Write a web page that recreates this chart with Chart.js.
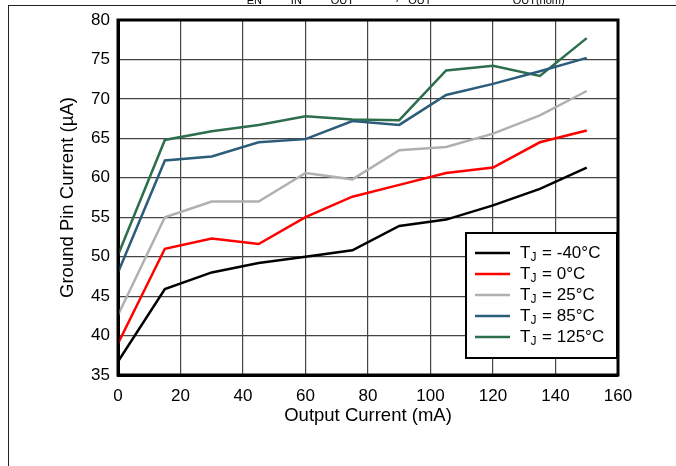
<!DOCTYPE html>
<html>
<head>
<meta charset="utf-8">
<script src="https://cdn.jsdelivr.net/npm/chart.js@4"></script>
<style>
  html, body { margin: 0; padding: 0; background: #fff; }
  #wrap { position: relative; width: 676px; height: 466px; overflow: hidden; }
  #frame { position: absolute; left: 8px; top: 5px; width: 700px; height: 500px;
    border-left: 1.5px solid #222; border-top: 1.5px solid #222; }
  #cond { position: absolute; left: 236px; top: -14px; font: 16px "Liberation Sans", Arial, sans-serif;
    color: #000; white-space: nowrap; }
  #cond sub { font-size: 11px; }
</style>
</head>
<body>
<div id="wrap">
  <div id="cond">V<sub>EN</sub> = V<sub>IN</sub> = V<sub>OUT</sub> + 1 V, I<sub>OUT</sub> = 0 mA to I<sub>OUT(nom)</sub></div>
  <div id="frame"></div>
  <canvas id="chart" width="676" height="466"></canvas>
</div>
<script>
const currents = [0, 15, 30, 45, 60, 75, 90, 105, 120, 135, 150];
const tempLabels = ["-40°C", "0°C", "25°C", "85°C", "125°C"];
const lineColors = ["#000000", "#ff0000", "#b0b0b0", "#2b5c7a", "#2d6e4c"];
const gndM40 = [36.7, 45.9, 48.0, 49.2, 50.0, 50.8, 53.9, 54.7, 56.5, 58.6, 61.3];
const gnd0 = [39.0, 51.0, 52.3, 51.6, 55.0, 57.6, 59.1, 60.6, 61.3, 64.5, 66.0];
const gnd25 = [42.6, 55.0, 57.0, 57.0, 60.6, 59.8, 63.5, 63.9, 65.6, 67.9, 71.0];
const gnd85 = [48.0, 62.2, 62.7, 64.5, 64.9, 67.2, 66.7, 70.5, 71.9, 73.5, 75.2];
const gnd125 = [50.2, 64.8, 65.9, 66.7, 67.8, 67.4, 67.3, 73.6, 74.2, 72.9, 77.7];
const seriesValues = [gndM40, gnd0, gnd25, gnd85, gnd125];

const FONT = "'Liberation Sans', Arial, sans-serif";

const datasets = seriesValues.map((vals, i) => ({
  label: "TJ = " + tempLabels[i],
  data: vals.map((v, k) => ({ x: currents[k], y: v })),
  borderColor: lineColors[i],
  backgroundColor: lineColors[i],
  borderWidth: 2.5,
  pointRadius: 0,
  tension: 0,
}));

// frame around the plot and the boxed legend with subscripts
const framePlugin = {
  id: "framePlugin",
  afterDatasetsDraw(chart) {
    const { ctx, chartArea: a } = chart;
    ctx.save();
    ctx.strokeStyle = "#000";
    ctx.lineWidth = 3;
    ctx.strokeRect(a.left, a.top, a.right - a.left, a.bottom - a.top);

    const bx = 466, by = 233, bw = 151, bh = 125;
    ctx.fillStyle = "#fff";
    ctx.fillRect(bx, by, bw, bh);
    ctx.lineWidth = 2;
    ctx.strokeRect(bx, by, bw, bh);

    chart.data.datasets.forEach((ds, i) => {
      const y = 253 + i * 21;
      ctx.strokeStyle = ds.borderColor;
      ctx.lineWidth = 2.5;
      ctx.beginPath();
      ctx.moveTo(475, y);
      ctx.lineTo(510, y);
      ctx.stroke();
      ctx.fillStyle = "#000";
      ctx.textBaseline = "middle";
      ctx.textAlign = "left";
      ctx.font = "17px " + FONT;
      ctx.fillText("T", 520, y);
      let x = 520 + ctx.measureText("T").width;
      ctx.font = "12px " + FONT;
      ctx.fillText("J", x, y + 5);
      x += ctx.measureText("J").width + 1;
      ctx.font = "17px " + FONT;
      ctx.fillText(" = " + tempLabels[i], x, y);
    });
    ctx.restore();
  },
};

new Chart(document.getElementById("chart"), {
  type: "line",
  data: { datasets },
  options: {
    responsive: false,
    animation: false,
    layout: { padding: { left: 57, top: 20, right: 58, bottom: 39 } },
    plugins: { legend: { display: false }, tooltip: { enabled: false } },
    scales: {
      x: {
        type: "linear",
        min: 0,
        max: 160,
        afterFit: (s) => { s.height = 52; },
        ticks: { stepSize: 20, color: "#000", padding: 11, font: { family: FONT, size: 17 } },
        grid: { color: "#444", lineWidth: 1.2, drawTicks: false },
        border: { color: "#000", width: 3 },
        title: { display: true, text: "Output Current (mA)", color: "#000",
          font: { family: FONT, size: 18.5 }, padding: { top: 0, bottom: 0 } },
      },
      y: {
        min: 35,
        max: 80,
        afterFit: (s) => { s.width = 61; },
        ticks: { stepSize: 5, color: "#000", padding: 8, font: { family: FONT, size: 17 } },
        grid: { color: "#444", lineWidth: 1.2, drawTicks: false },
        border: { color: "#000", width: 3 },
        title: { display: true, text: "Ground Pin Current (µA)", color: "#000",
          font: { family: FONT, size: 18.5 }, padding: { top: 0, bottom: 0 } },
      },
    },
  },
  plugins: [framePlugin],
});
</script>
</body>
</html>
